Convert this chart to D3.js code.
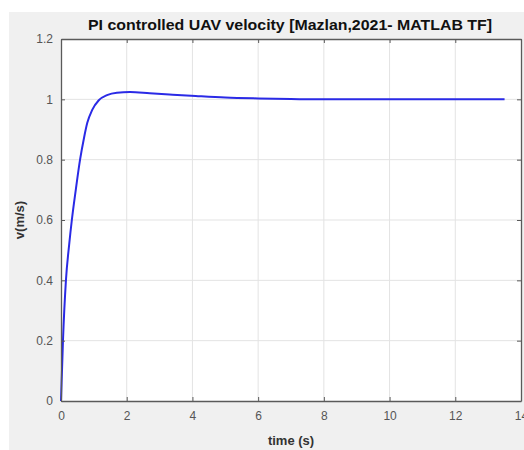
<!DOCTYPE html>
<html>
<head>
<meta charset="utf-8">
<script src="https://cdn.jsdelivr.net/npm/d3@7"></script>
<style>
  body { margin: 0; background: #fff; }
  text { font-family: "Liberation Sans", Arial, sans-serif; }
</style>
</head>
<body>
<script>
// step response
const time = [0, 0.06, 0.15, 0.25, 0.33, 0.45, 0.58, 0.7, 0.8, 0.95, 1.15, 1.4, 1.7, 2.1, 2.7, 3.3, 4.1, 5, 6, 7, 8, 10, 12, 13.5]
const velocity = [0, 0.2, 0.4, 0.52, 0.6, 0.7, 0.8, 0.872, 0.922, 0.965, 0.997, 1.014, 1.022, 1.024, 1.02, 1.016, 1.011, 1.006, 1.003, 1.001, 1.0, 1.0, 1.0, 1.0]
const xTicks = [0, 2, 4, 6, 8, 10, 12, 14]
const yTicks = [0, 0.2, 0.4, 0.6, 0.8, 1, 1.2]

const frame = { width: 524, height: 450, left: 61, top: 39, right: 521, bottom: 401 }

const svg = d3.select('body').append('svg')
  .attr('width', frame.width)
  .attr('height', frame.height)

// figure background (gray, with white strip on top/left)
svg.append('rect')
  .attr('x', 9).attr('y', 12)
  .attr('width', frame.width - 9).attr('height', frame.height - 12)
  .attr('fill', '#f0f0f0')

const x = d3.scaleLinear().domain([0, 14]).range([frame.left, frame.right])
const y = d3.scaleLinear().domain([0, 1.2]).range([frame.bottom, frame.top])

svg.append('rect')
  .attr('x', frame.left).attr('y', frame.top)
  .attr('width', frame.right - frame.left).attr('height', frame.bottom - frame.top)
  .attr('fill', '#fff')

// grid
svg.append('g').selectAll('line').data(xTicks.slice(1, -1)).join('line')
  .attr('x1', d => x(d)).attr('x2', d => x(d))
  .attr('y1', frame.top).attr('y2', frame.bottom)
  .attr('stroke', '#e3e3e3').attr('stroke-width', 1)
svg.append('g').selectAll('line').data(yTicks.slice(1, -1)).join('line')
  .attr('x1', frame.left).attr('x2', frame.right)
  .attr('y1', d => y(d)).attr('y2', d => y(d))
  .attr('stroke', '#e3e3e3').attr('stroke-width', 1)

// curve
const line = d3.line()
  .x((d, i) => x(time[i]))
  .y(d => y(d))
  .curve(d3.curveMonotoneX)
svg.append('path')
  .datum(velocity)
  .attr('d', line)
  .attr('fill', 'none')
  .attr('stroke', '#2a2ae6')
  .attr('stroke-width', 2)

// axes (MATLAB style, inside ticks, box on)
const axisColor = '#5a5a5a'
const bottomAxis = svg.append('g')
  .attr('transform', `translate(0,${frame.bottom})`)
  .call(d3.axisBottom(x).tickValues(xTicks).tickSizeInner(-4).tickSizeOuter(0).tickPadding(10))
const leftAxis = svg.append('g')
  .attr('transform', `translate(${frame.left},0)`)
  .call(d3.axisLeft(y).tickValues(yTicks).tickSizeInner(-4).tickSizeOuter(0).tickPadding(8).tickFormat(d3.format('~g')))
const topAxis = svg.append('g')
  .attr('transform', `translate(0,${frame.top})`)
  .call(d3.axisTop(x).tickValues(xTicks).tickSizeInner(-4).tickSizeOuter(0).tickFormat(''))
const rightAxis = svg.append('g')
  .attr('transform', `translate(${frame.right},0)`)
  .call(d3.axisRight(y).tickValues(yTicks).tickSizeInner(-4).tickSizeOuter(0).tickFormat(''))

;[bottomAxis, leftAxis, topAxis, rightAxis].forEach(g => {
  g.select('.domain').attr('stroke', axisColor).attr('stroke-width', 1.3)
  g.selectAll('.tick line').attr('stroke', axisColor)
  g.selectAll('.tick text').attr('fill', '#555').style('font-size', '12px')
})

// labels
svg.append('text')
  .attr('x', (frame.left + frame.right) / 2 - 1).attr('y', 30)
  .attr('text-anchor', 'middle')
  .attr('textLength', 404).attr('lengthAdjust', 'spacingAndGlyphs')
  .style('font-size', '14px').style('font-weight', 'bold')
  .attr('fill', '#111')
  .text('PI controlled UAV velocity [Mazlan,2021- MATLAB TF]')

svg.append('text')
  .attr('x', (frame.left + frame.right) / 2).attr('y', 445)
  .attr('text-anchor', 'middle')
  .style('font-size', '13px').style('font-weight', 'bold')
  .attr('fill', '#333')
  .text('time (s)')

svg.append('text')
  .attr('transform', `translate(24,${(frame.top + frame.bottom) / 2}) rotate(-90)`)
  .attr('text-anchor', 'middle')
  .style('font-size', '13px').style('font-weight', 'bold')
  .attr('fill', '#333')
  .text('v(m/s)')
</script>
</body>
</html>
